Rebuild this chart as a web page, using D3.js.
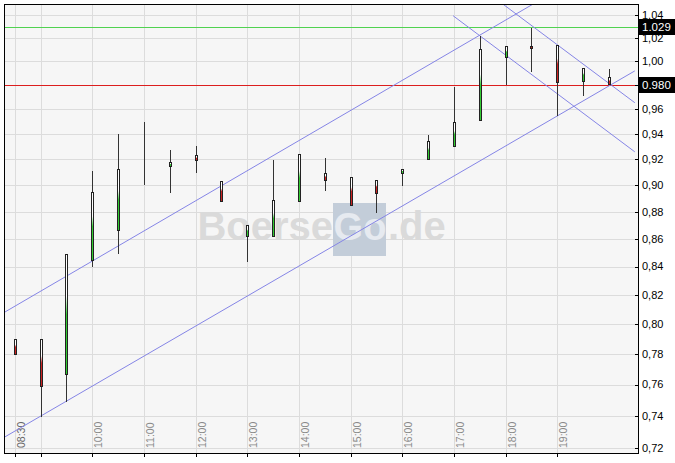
<!DOCTYPE html>
<html>
<head>
<meta charset="utf-8">
<script src="https://cdn.jsdelivr.net/npm/d3@7/dist/d3.min.js"></script>
<style>
  html, body { margin: 0; padding: 0; background: #ffffff; }
  svg { display: block; font-family: "Liberation Sans", Arial, sans-serif; }
</style>
</head>
<body>
<svg id="chart" width="675" height="463"></svg>
<script>
// ---- data (30-minute candles) ----
const times = ["08:30","09:00","09:30","10:00","10:30","11:00","11:30","12:00","12:30","13:00","13:30","14:00",
               "14:30","15:00","15:30","16:00","16:30","17:00","17:30","18:00","18:30","19:00","19:30","20:00"];
const openVals  = [0.790, 0.790, 0.767, 0.8445, 0.8667, 0.900, 0.915, 0.9234, 0.9032, 0.862, 0.862, 0.888,
                   0.9094, 0.9061, 0.904, 0.9092, 0.920, 0.9302, 0.951, 1.003, 1.0126, 1.0137, 0.983, 0.9863];
const highVals  = [0.790, 0.790, 0.849, 0.911, 0.940, 0.9496, 0.9273, 0.9304, 0.9032, 0.870, 0.9195, 0.924,
                   0.9208, 0.9061, 0.904, 0.9125, 0.9392, 0.9784, 1.0217, 1.0126, 1.0286, 1.0137, 0.9938, 0.9932];
const lowVals   = [0.780, 0.7396, 0.749, 0.8395, 0.849, 0.900, 0.8938, 0.9096, 0.8883, 0.8435, 0.862, 0.888,
                   0.8958, 0.8848, 0.8793, 0.8996, 0.920, 0.9302, 0.951, 0.980, 0.991, 0.9544, 0.9707, 0.9807];
const closeVals = [0.780, 0.759, 0.849, 0.8946, 0.9122, 0.900, 0.9177, 0.9197, 0.8883, 0.870, 0.8888, 0.924,
                   0.9037, 0.8848, 0.8943, 0.9125, 0.9344, 0.9493, 1.010, 1.0126, 1.0114, 0.982, 0.9938, 0.9807];

const xTickTimes  = ["08:30","09:00","10:00","11:00","12:00","13:00","14:00","15:00","16:00","17:00","18:00","19:00"];
const xLabelTimes = ["08:30","10:00","11:00","12:00","13:00","14:00","15:00","16:00","17:00","18:00","19:00"];
const yTickValues = [0.72,0.74,0.76,0.78,0.80,0.82,0.84,0.86,0.88,0.90,0.92,0.94,0.96,0.98,1.00,1.02,1.04];

const highLine = 1.029;   // green marker
const lastLine = 0.980;   // red marker
const highLabel = "1.029";
const lastLabel = "0.980";

// trend lines: [time, value] endpoints
const channelUpper = [["08:18", 0.808], ["18:32", 1.0495]];
const channelLower = [["08:18", 0.7268], ["20:30", 0.9916]];
const downUpper    = [["17:57", 1.0493], ["20:30", 0.9652]];
const downLower    = [["16:59", 1.0391], ["20:30", 0.9258]];
const trendLines = [channelUpper, channelLower, downUpper, downLower];

// ---- layout ----
const W = 675, H = 463;
const L = 4, R = 639, T = 4, B = 454;

const toMin = s => { const [h, m] = s.split(":").map(Number); return h * 60 + m; };

const x = d3.scaleLinear().domain([497.5, 1233.7]).range([L, R - 1]);
const y = d3.scaleLog().domain([0.7165, 1.0495]).range([B, T]);

const fmtLocale = d3.formatLocale({decimal: ",", thousands: ".", grouping: [3], currency: ["", "€"]});
const yFmt = fmtLocale.format(".2f");

const svg = d3.select("#chart");
const snap = v => Math.round(v) + 0.5;

// plot background
svg.append("rect").attr("x", L).attr("y", T).attr("width", R - L).attr("height", B - T)
  .attr("fill", "#f6f6f6");

const defs = svg.append("defs");
defs.append("clipPath").attr("id", "plotclip")
  .append("rect").attr("x", L).attr("y", T).attr("width", R - L).attr("height", B - T);

// gradients for candle bodies
[["gUp", "#33cc33"], ["gDown", "#cc2222"]].forEach(([id, col]) => {
  const g = defs.append("linearGradient").attr("id", id).attr("x1", 0).attr("y1", 0).attr("x2", 0).attr("y2", 1);
  g.append("stop").attr("offset", "0%").attr("stop-color", "#ffffff");
  g.append("stop").attr("offset", "35%").attr("stop-color", "#ffffff");
  g.append("stop").attr("offset", "50%").attr("stop-color", col);
  g.append("stop").attr("offset", "100%").attr("stop-color", col);
});

// horizontal grid
svg.append("g").selectAll("line").data(yTickValues).join("line")
  .attr("x1", L).attr("x2", R)
  .attr("y1", d => snap(y(d))).attr("y2", d => snap(y(d)))
  .style("stroke", "#dcdcdc").style("stroke-width", 1);

// vertical grid
svg.append("g").selectAll("line").data(xTickTimes).join("line")
  .attr("x1", d => snap(x(toMin(d)))).attr("x2", d => snap(x(toMin(d))))
  .attr("y1", T).attr("y2", B)
  .style("stroke", "#dcdcdc").style("stroke-width", 1);

// watermark
const wm = svg.append("g").attr("font-weight", "bold");
wm.append("rect").attr("x", 333).attr("y", 203).attr("width", 53).attr("height", 53).attr("fill", "#c3cdd9");
wm.append("text").attr("x", 333).attr("y", 240).attr("text-anchor", "end")
  .attr("font-size", 40).attr("fill", "#dadada").text("Boerse");
wm.append("text").attr("x", 360).attr("y", 240).attr("text-anchor", "middle")
  .attr("font-size", 38).attr("fill", "#e6eaf0").text("Go");
wm.append("text").attr("x", 388).attr("y", 240).attr("text-anchor", "start")
  .attr("font-size", 40).attr("fill", "#dadada").text(".de");

// x labels (rotated, inside the plot)
svg.append("g").selectAll("text").data(xLabelTimes).join("text")
  .attr("transform", d => `translate(${x(toMin(d)) + 10},448) rotate(-90)`)
  .attr("font-size", 10.5)
  .attr("fill", d => d === "08:30" ? "#666" : "#8a8a8a")
  .text(d => d);

// marker lines
svg.append("path")
  .attr("d", `M${L},${snap(y(highLine))}H${R}`)
  .attr("shape-rendering", "crispEdges")
  .style("stroke", "rgb(80,210,80)").style("stroke-width", 1).style("fill", "none");
svg.append("path")
  .attr("d", `M${L},${snap(y(lastLine))}H${R}`)
  .attr("shape-rendering", "crispEdges")
  .style("stroke", "rgb(220,30,30)").style("stroke-width", 1).style("fill", "none");

// trend lines
const line = d3.line().x(d => x(toMin(d[0]))).y(d => y(d[1]));
svg.append("g").attr("clip-path", "url(#plotclip)").selectAll("path").data(trendLines).join("path")
  .attr("d", line).style("fill", "none").style("stroke", "#8585e6").style("stroke-width", 1);

// candles
const candles = times.map((t, i) => ({t, o: openVals[i], h: highVals[i], l: lowVals[i], c: closeVals[i]}));
const cg = svg.append("g").selectAll("g").data(candles).join("g");
cg.append("line")
  .attr("x1", d => Math.round(x(toMin(d.t))) + 0.5).attr("x2", d => Math.round(x(toMin(d.t))) + 0.5)
  .attr("y1", d => Math.round(y(d.h))).attr("y2", d => Math.round(y(d.l)))
  .style("stroke", "#333").style("stroke-width", 1);
cg.append("rect")
  .attr("x", d => Math.round(x(toMin(d.t))) - 0.5)
  .attr("width", 2)
  .attr("y", d => Math.round(y(Math.max(d.o, d.c))) + 0.5)
  .attr("height", d => Math.max(0, Math.round(y(Math.min(d.o, d.c))) - Math.round(y(Math.max(d.o, d.c)))))
  .attr("fill", d => d.c >= d.o ? "url(#gUp)" : "url(#gDown)")
  .style("stroke", "#222").style("stroke-width", 1);

// frame
svg.append("rect").attr("x", L + 0.5).attr("y", T + 0.5).attr("width", R - L - 1).attr("height", B - T - 1)
  .style("fill", "none").style("stroke", "#000").style("stroke-width", 1);

// x ticks
svg.append("g").selectAll("line").data(xTickTimes).join("line")
  .attr("x1", d => snap(x(toMin(d)))).attr("x2", d => snap(x(toMin(d))))
  .attr("y1", B).attr("y2", B + 3).style("stroke", "#000");

// y ticks and labels (the 0,98 label sits under the last-price box)
const yAxis = svg.append("g");
yAxis.selectAll("line").data(yTickValues).join("line")
  .attr("x1", R - 4).attr("x2", R)
  .attr("y1", d => snap(y(d))).attr("y2", d => snap(y(d))).style("stroke", "#000");
yAxis.selectAll("text").data(yTickValues.filter(d => Math.abs(d - lastLine) > 0.005)).join("text")
  .attr("x", R + 3).attr("y", d => y(d)).attr("dy", "0.36em")
  .attr("font-size", 11).attr("fill", "#000").text(d => yFmt(d));

// value boxes
[[highLine, highLabel], [lastLine, lastLabel]].forEach(([v, txt]) => {
  const yy = Math.round(y(v));
  svg.append("rect").attr("x", R).attr("y", yy - 8).attr("width", W - R).attr("height", 16).attr("fill", "#000");
  svg.append("text").attr("x", R + 3).attr("y", yy + 4).attr("font-size", 11.5).attr("fill", "#fff").text(txt);
});
</script>
</body>
</html>
